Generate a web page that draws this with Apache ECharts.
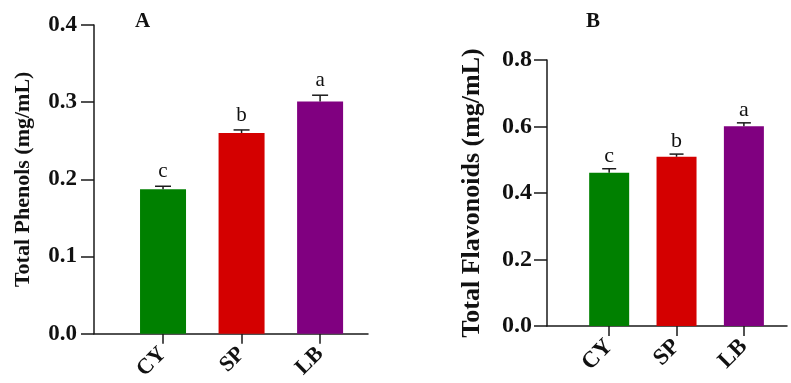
<!DOCTYPE html>
<html>
<head>
<meta charset="utf-8">
<script src="https://cdn.jsdelivr.net/npm/echarts@6/dist/echarts.min.js"></script>
<style>
  html, body { margin: 0; padding: 0; background: #fff; }
  #chart { width: 791px; height: 383px; }
</style>
</head>
<body>
<div id="chart"></div>
<script>
// 数据
const categories = ['CY', 'SP', 'LB'];
const catPositions = [1, 2, 3];
const phenols = [0.187, 0.260, 0.301];
const phenolsErr = [0.004, 0.004, 0.008];
const flavonoids = [0.461, 0.509, 0.601];
const flavonoidsErr = [0.012, 0.008, 0.010];
const sigLetters = ['c', 'b', 'a'];
const barColors = ['#008000', '#d40000', '#800080'];

const FONT = '"Liberation Serif", "Times New Roman", serif';
const AXIS_COLOR = '#1a1a1a';

const chart = echarts.init(document.getElementById('chart'));

function barData(values) {
  return values.map((v, i) => ({
    value: [catPositions[i], v],
    itemStyle: { color: barColors[i] }
  }));
}

function errData(values, errs) {
  return values.map((v, i) => [catPositions[i], v, errs[i], sigLetters[i]]);
}

// 误差线 + 显著性字母
function makeErrRender(capWidth, letterGap, letterSize) {
  return function (params, api) {
    const x = api.value(0);
    const y = api.value(1);
    const e = api.value(2);
    const base = api.coord([x, y]);
    const top = api.coord([x, y + e]);
    const half = capWidth / 2;
    const style = { stroke: AXIS_COLOR, lineWidth: 1.5 };
    return {
      type: 'group',
      children: [
        { type: 'line', shape: { x1: base[0], y1: base[1], x2: top[0], y2: top[1] }, style },
        { type: 'line', shape: { x1: top[0] - half, y1: top[1], x2: top[0] + half, y2: top[1] }, style },
        {
          type: 'text',
          x: top[0],
          y: top[1] - letterGap,
          style: {
            text: sigLetters[params.dataIndex],
            fontFamily: FONT,
            fontSize: letterSize,
            fill: '#111',
            align: 'center',
            verticalAlign: 'bottom'
          }
        }
      ]
    };
  };
}

function xAxisFor(gridIndex, min, max, fontSize) {
  return {
    type: 'value',
    gridIndex,
    min,
    max,
    splitLine: { show: false },
    axisLine: { show: true, lineStyle: { color: AXIS_COLOR, width: 1.5 } },
    axisTick: { show: true, customValues: catPositions, length: 10, lineStyle: { color: AXIS_COLOR, width: 1.5 } },
    axisLabel: {
      customValues: catPositions,
      formatter: v => categories[Math.round(v) - 1] || '',
      rotate: 45,
      margin: 17,
      fontFamily: FONT,
      fontWeight: 'bold',
      fontSize,
      color: '#111'
    }
  };
}

function yAxisFor(gridIndex, max, interval, name, labelSize, nameSize, nameGap, margin) {
  return {
    type: 'value',
    gridIndex,
    min: 0,
    max,
    interval,
    name,
    nameLocation: 'middle',
    nameGap,
    nameTextStyle: { fontFamily: FONT, fontWeight: 'bold', fontSize: nameSize, color: '#111' },
    splitLine: { show: false },
    axisLine: { show: true, lineStyle: { color: AXIS_COLOR, width: 1.5 } },
    axisTick: { show: true, length: 13, lineStyle: { color: AXIS_COLOR, width: 1.5 } },
    axisLabel: {
      margin,
      formatter: v => v.toFixed(1),
      fontFamily: FONT,
      fontWeight: 'bold',
      fontSize: labelSize,
      color: '#111'
    }
  };
}

const option = {
  backgroundColor: '#fff',
  animation: false,
  title: [
    { text: 'A', left: 130, top: 6, textStyle: { fontFamily: FONT, fontWeight: 'bold', fontSize: 21, color: '#111' } },
    { text: 'B', left: 581, top: 6, textStyle: { fontFamily: FONT, fontWeight: 'bold', fontSize: 21, color: '#111' } }
  ],
  grid: [
    { left: 94, right: 423, top: 25, bottom: 49 },
    { left: 547, right: 4, top: 60, bottom: 57 }
  ],
  xAxis: [
    xAxisFor(0, 0.121, 3.61, 22),
    xAxisFor(1, 0.077, 3.64, 23)
  ],
  yAxis: [
    yAxisFor(0, 0.4, 0.1, 'Total Phenols (mg/mL)', 23, 22, 60, 17),
    yAxisFor(1, 0.8, 0.2, 'Total Flavonoids (mg/mL)', 24, 26, 62, 15)
  ],
  series: [
    { type: 'bar', xAxisIndex: 0, yAxisIndex: 0, barWidth: 46, data: barData(phenols) },
    { type: 'bar', xAxisIndex: 1, yAxisIndex: 1, barWidth: 40, data: barData(flavonoids) },
    {
      type: 'custom', xAxisIndex: 0, yAxisIndex: 0, z: 5,
      renderItem: makeErrRender(16, 4, 21),
      data: errData(phenols, phenolsErr)
    },
    {
      type: 'custom', xAxisIndex: 1, yAxisIndex: 1, z: 5,
      renderItem: makeErrRender(14, 2, 22),
      data: errData(flavonoids, flavonoidsErr)
    }
  ]
};

chart.setOption(option);
</script>
</body>
</html>
